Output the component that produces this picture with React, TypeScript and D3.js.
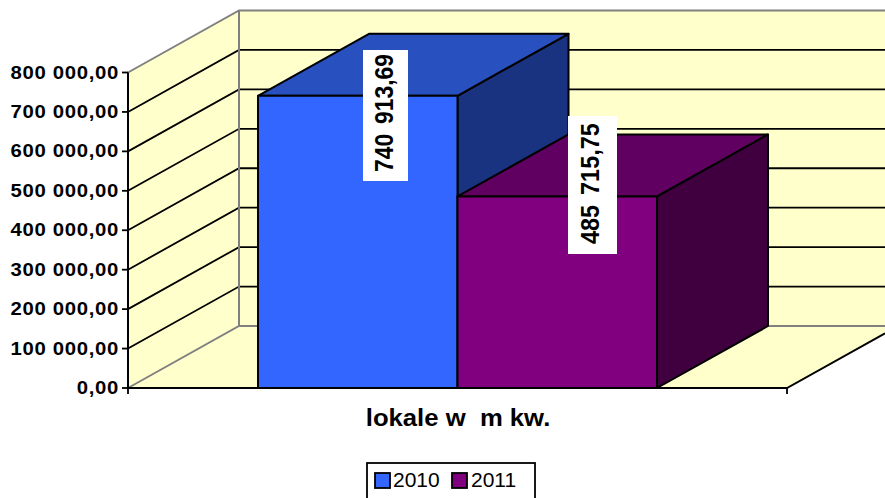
import React from "react";
import * as d3 from "d3";

const series = ["2010", "2011"];
const values = [740913.69, 485715.75];
const valueLabels = ["740 913,69", "485 715,75"];
const tickValues = [0, 100000, 200000, 300000, 400000, 500000, 600000, 700000, 800000];
const tickLabels = ["0,00", "100 000,00", "200 000,00", "300 000,00", "400 000,00", "500 000,00", "600 000,00", "700 000,00", "800 000,00"];
const category = "lokale w  m kw.";
const frontColors = ["#3366FF", "#800080"];
const topColors = ["#2850BF", "#600060"];
const sideColors = ["#193380", "#400040"];

const W = 885, H = 498;
const DX = 111, DY = -62;
const y = d3.scaleLinear().domain([0, 800000]).range([388, 72.5]);
const x = d3.scaleBand<string>().domain(series).range([258, 657]).padding(0);
const XL = 128, XR = 787;
const font = "'Liberation Sans', Arial, sans-serif";
const poly = (p: [number, number][]) => d3.line()(p) + "Z";

export default function App() {
  const y0 = y(0);
  return (
    <svg width={W} height={H} style={{ position: "fixed", left: 0, top: 0, background: "#fff" }} fontFamily={font}>
      {/* walls and floor */}
      <path d={poly([[XL, y0], [XL + DX, y0 + DY], [XL + DX, y(800000) + DY], [XL, y(800000)]])} fill="#FFFFCC" />
      <path d={poly([[XL + DX, y0 + DY], [W + 20, y0 + DY], [W + 20, y(800000) + DY], [XL + DX, y(800000) + DY]])} fill="#FFFFCC" />
      <path d={poly([[XL, y0], [XR, y0], [XR + DX, y0 + DY], [XL + DX, y0 + DY]])} fill="#FFFFCC" />
      {/* gridlines */}
      {tickValues.slice(1, -1).map((t) => (
        <path key={t} d={`M${XL},${y(t)}L${XL + DX},${y(t) + DY}L${W},${y(t) + DY}`} fill="none" stroke="#000" strokeWidth={1.8} />
      ))}
      {/* grey wall outlines */}
      <path d={`M${XL},${y(800000)}L${XL + DX},${y(800000) + DY}L${W},${y(800000) + DY}`} fill="none" stroke="#808080" strokeWidth={2} />
      <path d={`M${XL},${y0}L${XL + DX},${y0 + DY}L${W},${y0 + DY}`} fill="none" stroke="#808080" strokeWidth={2} />
      <path d={`M${XL + DX},${y0 + DY}V${y(800000) + DY}`} fill="none" stroke="#808080" strokeWidth={2} />
      {/* bars */}
      {series.map((s, i) => {
        const l = x(s)!, r = l + x.bandwidth(), t = y(values[i]);
        return (
          <g key={s} stroke="#000" strokeWidth={2} strokeLinejoin="round">
            <path d={poly([[r, y0], [r + DX, y0 + DY], [r + DX, t + DY], [r, t]])} fill={sideColors[i]} />
            <path d={poly([[l, t], [r, t], [r + DX, t + DY], [l + DX, t + DY]])} fill={topColors[i]} />
            <rect x={l} y={t} width={r - l} height={y0 - t} fill={frontColors[i]} />
          </g>
        );
      })}
      {/* axes */}
      <path d={`M${XL},${y(800000)}V${y0}`} stroke="#000" strokeWidth={2} fill="none" />
      <path d={`M${XL},${y0}H${XR}L${W},${y0 + (DY * (W - XR)) / DX}`} stroke="#000" strokeWidth={2} fill="none" />
      <path d={`M${XL},${y0}v6M${XR},${y0}v6`} stroke="#000" strokeWidth={1.8} fill="none" />
      {tickValues.map((t, i) => (
        <g key={t}>
          <line x1={XL - 6} x2={XL} y1={y(t)} y2={y(t)} stroke="#000" strokeWidth={1.8} />
          <text transform={`translate(119,${y(t) + 6}) scale(1.13,1)`} textAnchor="end" fontSize={18} fontWeight="bold" letterSpacing={0.6} fill="#000">{tickLabels[i]}</text>
        </g>
      ))}
      {/* data labels */}
      <rect x={363} y={50} width={45} height={131} fill="#fff" />
      <text transform="translate(393,172) rotate(-90) scale(0.88,1)" fontSize={26} fontWeight="bold" wordSpacing={4} fill="#000">{valueLabels[0]}</text>
      <rect x={568} y={116} width={49} height={138} fill="#fff" />
      <text transform="translate(599,244) rotate(-90) scale(0.9,1)" fontSize={26} fontWeight="bold" wordSpacing={4} fill="#000">{valueLabels[1]}</text>
      {/* category */}
      <text transform="translate(458,426) scale(1.07,1)" textAnchor="middle" fontSize={24} fontWeight="bold" fill="#000" style={{ whiteSpace: "pre" }}>{category}</text>
      {/* legend */}
      <rect x={367} y={463} width={168} height={40} fill="#fff" stroke="#000" strokeWidth={1.8} />
      {series.map((s, i) => (
        <g key={s}>
          <rect x={375 + i * 77} y={473} width={15} height={15} fill={frontColors[i]} stroke="#000" strokeWidth={1.8} />
          <text x={393 + i * 78} y={487} fontSize={21} fill="#000">{s}</text>
        </g>
      ))}
    </svg>
  );
}
